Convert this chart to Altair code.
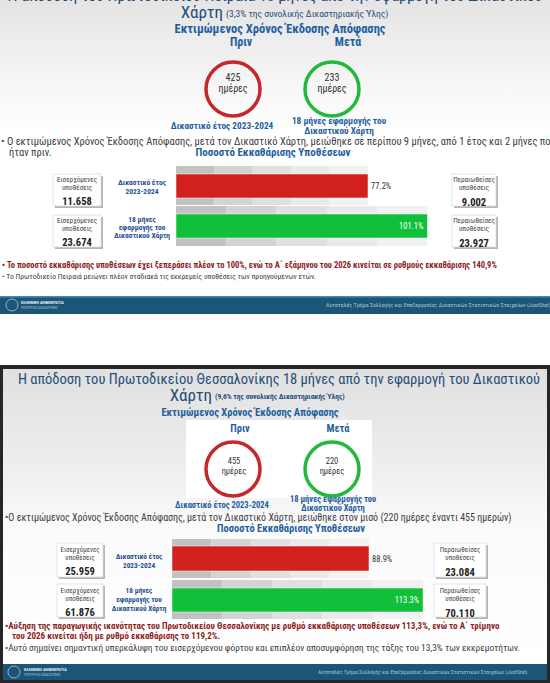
import altair as alt
import pandas as pd

# ---------------- data ----------------
court_top = "Πειραιά"
court_bottom = "Θεσσαλονίκης"
share_top = "3,3%"
share_bottom = "9,6%"
days_before = [425, 455]          # top panel, bottom panel
days_after = [233, 220]
clear_top = [77.2, 101.1]         # % clearance, before / after
clear_bottom = [88.9, 113.3]
incoming_top = [11658, 23674]
resolved_top = [9002, 23927]
incoming_bottom = [25959, 61876]
resolved_bottom = [23084, 70110]

FONT = "Liberation Sans Narrow, Roboto Condensed, Roboto, sans-serif"
BLUE = "#1f5f9f"
NAVY = "#1f4e79"
MIDBLUE = "#1f4f8f"
DARKRED = "#8b1d1d"
GREY_TXT = "#404040"
RED = "#d0211d"
GREEN = "#10bf3a"
RING_RED = "#c4282a"
RING_GREEN = "#22b83c"
FOOT = "#1b5577"
GREYS = ["#c2c2c2", "#d3d3d3", "#e0e0e0", "#eaeaea", "#f2f2f2"]

ONE = pd.DataFrame({"k": [0]})


def fmt(n):
    return f"{n:,}".replace(",", ".")


def T(items, size, color=GREY_TXT, weight="normal", align="center", baseline="middle"):
    df = pd.DataFrame(items, columns=["t", "x", "y"])
    return alt.Chart(df).mark_text(
        fontSize=size, color=color, fontWeight=weight, align=align, baseline=baseline, font=FONT
    ).encode(
        x=alt.X("x:Q", scale=None, axis=None),
        y=alt.Y("y:Q", scale=None, axis=None),
        text="t:N",
    )


def R(x, x2, y, y2, **kw):
    return alt.Chart(ONE).mark_rect(**kw).encode(
        x=alt.value(x), x2=alt.value(x2), y=alt.value(y), y2=alt.value(y2)
    )


def grad(stops):
    return alt.Gradient(
        gradient="linear",
        stops=[alt.GradientStop(color=c, offset=o) for o, c in stops],
        x1=0, x2=0, y1=0, y2=1,
    )


def ring(x, y, r, color):
    return alt.Chart(ONE).mark_point(
        shape="circle", filled=False, size=(2 * r) ** 2, strokeWidth=3.5, color=color, opacity=1
    ).encode(x=alt.value(x), y=alt.value(y))


def bullet_rows(values, x0, px100, rows, colors, label_size):
    """rows: list of (grey_y0, grey_y1, bar_y0, bar_y1)"""
    scale = alt.Scale(domain=[0, 100], range=[x0, x0 + px100], nice=False, zero=False)
    out = []
    for i, (v, (gy0, gy1, by0, by1), col) in enumerate(zip(values, rows, colors)):
        seg = pd.DataFrame({
            "lo": [v * k / 5 for k in range(5)],
            "hi": [v * (k + 1) / 5 for k in range(5)],
            "shade": list(range(5)),
        })
        out.append(alt.Chart(seg).mark_rect().encode(
            x=alt.X("lo:Q", scale=scale, axis=None), x2="hi:Q",
            y=alt.value(gy0), y2=alt.value(gy1),
            color=alt.Color("shade:O", scale=alt.Scale(domain=list(range(5)), range=GREYS), legend=None),
        ))
        bar = pd.DataFrame({"lo": [0.0], "v": [v], "lab": [f"{v}%"]})
        out.append(alt.Chart(bar).mark_rect(color=col, stroke="#ffffff", strokeOpacity=0.5, strokeWidth=1).encode(
            x=alt.X("lo:Q", scale=scale, axis=None), x2="v:Q",
            y=alt.value(by0), y2=alt.value(by1),
        ))
        inside = v > 100
        out.append(alt.Chart(bar).mark_text(
            font=FONT, fontSize=label_size,
            align="right" if inside else "left",
            dx=-4 if inside else 3,
            color="#ffffff" if inside else "#333333",
        ).encode(
            x=alt.X("v:Q", scale=scale, axis=None),
            y=alt.value((by0 + by1) / 2),
            text="lab:N",
        ))
    return out


def box(x0, x1, y0, y1):
    return [
        R(x0 + 2, x1 + 2, y0 + 2, y1 + 2, color="#b5b5b5"),
        R(x0, x1, y0, y1, color="#ffffff", stroke="#dddddd", strokeWidth=0.8),
    ]


layers = []

# ======================= TOP PANEL =======================
layers.append(R(0, 550, 0, 683, color="#ffffff"))
layers.append(R(0, 550, 0, 135, fill=grad([(0, "#e4e4e4"), (0.75, "#fafafa"), (1, "#ffffff")])))

layers.append(T([(f"Η απόδοση του Πρωτοδικείου {court_top} 18 μήνες από την εφαρμογή του Δικαστικού", 275, 1)],
                16, NAVY, baseline="alphabetic"))
layers.append(T([("Χάρτη", 223, 13)], 17, NAVY, align="right"))
layers.append(T([(f"({share_top} της συνολικής Δικαστηριακής Ύλης)", 226, 14)], 9.5, NAVY, align="left"))

layers.append(T([("Εκτιμώμενος Χρόνος Έκδοσης Απόφασης", 280, 29)], 12.5, BLUE, "bold"))
layers.append(T([("Πριν", 241, 42), ("Μετά", 348, 42)], 12, BLUE, "bold"))

layers.append(ring(233, 89, 27, RING_RED))
layers.append(ring(332, 89, 27, RING_GREEN))
layers.append(T([(str(days_before[0]), 233, 78), ("ημέρες", 233, 89),
                 (str(days_after[0]), 332, 78), ("ημέρες", 332, 89)], 10, "#333333"))
layers.append(T([("Δικαστικό έτος 2023-2024", 222, 126),
                 ("18 μήνες εφαρμογής του", 339, 121), ("Δικαστικού Χάρτη", 339, 131)], 9.3, BLUE, "bold"))

layers.append(T([("• Ο εκτιμώμενος Χρόνος Έκδοσης Απόφασης, μετά τον Δικαστικό Χάρτη, μειώθηκε σε περίπου 9 μήνες, από 1 έτος και 2 μήνες που", 1, 142),
                 ("ήταν πριν.", 9, 153)], 10.5, GREY_TXT, align="left"))
layers.append(T([("Ποσοστό Εκκαθάρισης Υποθέσεων", 273, 153)], 11, BLUE, "bold"))

layers += bullet_rows(clear_top, 176, 248.7,
                      [(166, 205, 174, 198), (206, 246, 214, 238)], [RED, GREEN], 8.5)

for (y0, y1, vin, vout) in [(174, 206, incoming_top[0], resolved_top[0]),
                            (215, 247, incoming_top[1], resolved_top[1])]:
    layers += box(53, 101, y0, y1)
    layers += box(452, 496, y0, y1)
    layers.append(T([("Εισερχόμενες", 77, y0 + 6), ("υποθέσεις", 77, y0 + 14),
                     ("Περαιωθείσες", 474, y0 + 6), ("υποθέσεις", 474, y0 + 14)], 7.2, "#444444"))
    layers.append(T([(fmt(vin), 77, y0 + 28), (fmt(vout), 474, y0 + 29)], 10.5, "#222222", "bold"))

layers.append(T([("Δικαστικό έτος", 142, 183), ("2023-2024", 142, 192),
                 ("18 μήνες", 142, 220), ("εφαρμογής του", 142, 228), ("Δικαστικού Χάρτη", 142, 236)],
                7.5, MIDBLUE, "bold"))

layers.append(T([("• Το ποσοστό εκκαθάρισης υποθέσεων έχει ξεπεράσει πλέον το 100%, ενώ το Α΄ εξάμηνου του 2026 κινείται σε ρυθμούς εκκαθάρισης 140,9%", 2, 265)],
                8.5, DARKRED, "bold", align="left"))
layers.append(T([("• Το Πρωτοδικείο Πειραιά μειώνει πλέον σταδιακά τις εκκρεμείς υποθέσεις των προηγούμενων ετών.", 2, 277)],
                7.6, GREY_TXT, align="left"))

# footer top
layers.append(R(0, 550, 296, 314, color=FOOT))
layers.append(R(0, 550, 296, 297.5, color="#3f8db5"))
layers.append(alt.Chart(ONE).mark_point(shape="circle", filled=False, size=144, strokeWidth=1, color="#cfdde8").encode(
    x=alt.value(12), y=alt.value(305)))
layers.append(T([("ΕΛΛΗΝΙΚΗ ΔΗΜΟΚΡΑΤΙΑ", 21, 303)], 4.2, "#e8eef3", "bold", align="left"))
layers.append(T([("ΥΠΟΥΡΓΕΙΟ ΔΙΚΑΙΟΣΥΝΗΣ", 21, 307.5)], 3.5, "#a9c4d6", align="left"))
layers.append(T([("Αυτοτελές Τμήμα Συλλογής και Επεξεργασίας Δικαστικών Στατιστικών Στοιχείων (JustStat)", 326, 305)],
                6, "#a9c4d6", align="left"))

# ======================= BOTTOM PANEL =======================
layers.append(R(0, 550, 365, 683, color="#262626"))
layers.append(R(3, 547, 369, 664, fill=grad([(0, "#e0e0e0"), (0.35, "#efefef"), (0.55, "#fbfbfb"), (1, "#ffffff")])))
layers.append(T([(f"Η απόδοση του Πρωτοδικείου {court_bottom} 18 μήνες από την εφαρμογή του Δικαστικού", 279, 384)],
                14.5, NAVY, baseline="alphabetic"))
layers.append(R(0, 550, 365, 369, color="#262626"))
layers.append(T([("Χάρτη", 212, 401)], 17, NAVY, align="right", baseline="alphabetic"))
layers.append(T([(f"({share_bottom} της συνολικής Δικαστηριακής Ύλης)", 215, 397)], 7.5, NAVY, "bold", align="left"))

layers.append(T([("Εκτιμώμενος Χρόνος Έκδοσης Απόφασης", 250, 413)], 10.5, BLUE, "bold"))
layers.append(R(186, 372, 420, 498, color="#ffffff"))
layers.append(T([("Πριν", 240, 429), ("Μετά", 338, 429)], 10.5, BLUE, "bold"))
layers.append(ring(233, 469, 27, RING_RED))
layers.append(ring(332, 469, 27, RING_GREEN))
layers.append(T([(str(days_before[1]), 234, 461), ("ημέρες", 234, 471),
                 (str(days_after[1]), 332, 461), ("ημέρες", 332, 471)], 8.5, "#333333"))
layers.append(T([("Δικαστικό έτος 2023-2024", 222, 505),
                 ("18 μήνες εφαρμογής του", 333, 499), ("Δικαστικού Χάρτη", 333, 507.5)], 8.5, BLUE, "bold"))

layers.append(T([("•Ο εκτιμώμενος Χρόνος Έκδοσης Απόφασης, μετά τον Δικαστικό Χάρτη, μειώθηκε στον μισό (220 ημέρες έναντι 455 ημερών)", 5, 517.5)],
                10, GREY_TXT, align="left"))
layers.append(T([("Ποσοστό Εκκαθάρισης Υποθέσεων", 291, 529)], 10.5, BLUE, "bold"))

layers += bullet_rows(clear_bottom, 172, 221.6,
                      [(539, 578, 546, 571), (580, 619, 588, 612)], [RED, GREEN], 8.5)

for (y0, y1, vin, vout) in [(543, 577, incoming_bottom[0], resolved_bottom[0]),
                            (584, 617, incoming_bottom[1], resolved_bottom[1])]:
    layers += box(57, 103, y0, y1)
    layers += box(434, 486, y0, y1)
    layers.append(T([("Εισερχόμενες", 80, y0 + 7), ("υποθέσεις", 80, y0 + 15),
                     ("Περαιωθείσες", 460, y0 + 7), ("υποθέσεις", 460, y0 + 15)], 7, "#444444"))
    layers.append(T([(fmt(vin), 80, y0 + 29), (fmt(vout), 460, y0 + 30)], 10.5, "#222222", "bold"))

layers.append(T([("Δικαστικό έτος", 139, 557), ("2023-2024", 139, 566),
                 ("18 μήνες", 139, 591), ("εφαρμογής του", 139, 600), ("Δικαστικού Χάρτη", 139, 609)],
                7.3, MIDBLUE, "bold"))

layers.append(T([("•Αύξηση της παραγωγικής ικανότητας του Πρωτοδικείου Θεσσαλονίκης με ρυθμό εκκαθάρισης υποθέσεων 113,3%, ενώ το Α΄ τρίμηνο", 5, 626),
                 ("του 2026 κινείται ήδη με ρυθμό εκκαθάρισης το 119,2%.", 12, 636)],
                9, DARKRED, "bold", align="left"))
layers.append(T([("•Αυτό σημαίνει σημαντική υπερκάλυψη του εισερχόμενου φόρτου και επιπλέον αποσυμφόρηση της τάξης του 13,3% των εκκρεμοτήτων.", 5, 648)],
                9.4, GREY_TXT, align="left"))

layers.append(R(3, 547, 664, 680, color=FOOT))
layers.append(alt.Chart(ONE).mark_point(shape="circle", filled=False, size=144, strokeWidth=1, color="#cfdde8").encode(
    x=alt.value(14), y=alt.value(672)))
layers.append(T([("ΕΛΛΗΝΙΚΗ ΔΗΜΟΚΡΑΤΙΑ", 24, 670)], 4.2, "#e8eef3", "bold", align="left"))
layers.append(T([("ΥΠΟΥΡΓΕΙΟ ΔΙΚΑΙΟΣΥΝΗΣ", 24, 674.5)], 3.5, "#a9c4d6", align="left"))
layers.append(T([("Αυτοτελές Τμήμα Συλλογής και Επεξεργασίας Δικαστικών Στατιστικών Στοιχείων (JustStat)", 318, 672)],
                5.6, "#a9c4d6", align="left"))

chart = alt.layer(*layers).resolve_scale(
    x="independent", y="independent", color="independent"
).properties(
    width=550, height=683, padding=0, autosize=alt.AutoSizeParams(type="none"), background="#ffffff"
).configure_view(stroke=None)

chart.save("out.html", embed_options={"renderer": "svg", "actions": False})
